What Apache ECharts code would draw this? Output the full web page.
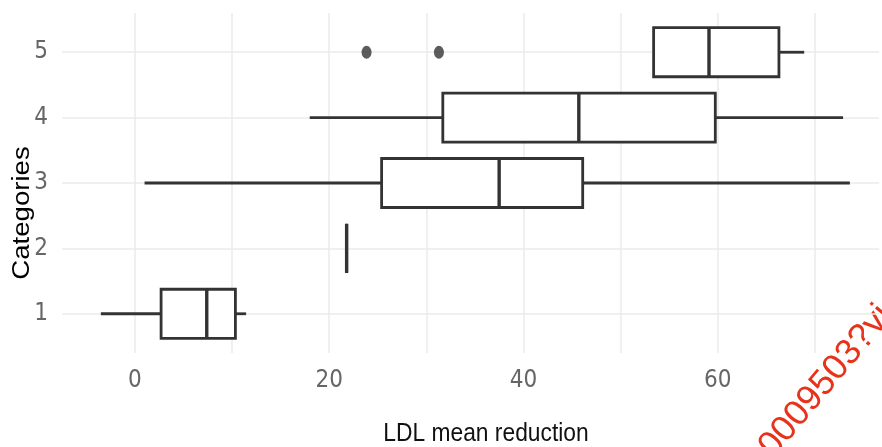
<!DOCTYPE html>
<html>
<head>
<meta charset="utf-8">
<script src="https://cdn.jsdelivr.net/npm/echarts@6/dist/echarts.min.js"></script>
<style>
  html, body { margin: 0; padding: 0; background: #fff; }
  #chart { width: 882px; height: 447px; }
</style>
</head>
<body>
<div id="chart"></div>
<script>
// box statistics, one entry per category
var categories = [1, 2, 3, 4, 5];
var lowWhisker = [-3.5, 21.8, 1.0, 18.0, 53.4];
var q1 = [2.7, 21.8, 25.4, 31.7, 53.4];
var median = [7.4, 21.8, 37.5, 45.7, 59.1];
var q3 = [10.35, 21.8, 46.1, 59.75, 66.3];
var highWhisker = [11.45, 21.8, 73.6, 72.9, 68.9];

// outliers: [value, category]
var outliers = [[23.85, 5], [31.3, 5]];

var xTickLabels = [0, 20, 40, 60];

var boxData = categories.map(function (c, i) {
    return [c, lowWhisker[i], q1[i], median[i], q3[i], highWhisker[i]];
});

var lineColor = '#333333';
var gridColor = '#ebebeb';
var tickFont = '"Liberation Sans Narrow", "DejaVu Sans Condensed", sans-serif';

function renderBox(params, api) {
    var cat = api.value(0);
    var pLow = api.coord([api.value(1), cat]);
    var pQ1 = api.coord([api.value(2), cat]);
    var pMed = api.coord([api.value(3), cat]);
    var pQ3 = api.coord([api.value(4), cat]);
    var pHigh = api.coord([api.value(5), cat]);
    var h = api.size([0, 0.75])[1];
    var y0 = pMed[1] - h / 2;
    var stroke = { stroke: lineColor, lineWidth: 2.8, fill: null };
    return {
        type: 'group',
        children: [
            { type: 'line', shape: { x1: pLow[0], y1: pLow[1], x2: pQ1[0], y2: pQ1[1] }, style: stroke },
            { type: 'line', shape: { x1: pQ3[0], y1: pQ3[1], x2: pHigh[0], y2: pHigh[1] }, style: stroke },
            { type: 'rect', shape: { x: pQ1[0], y: y0, width: pQ3[0] - pQ1[0], height: h },
              style: { stroke: lineColor, lineWidth: 2.8, fill: '#fff' } },
            { type: 'line', shape: { x1: pMed[0], y1: y0, x2: pMed[0], y2: y0 + h },
              style: { stroke: lineColor, lineWidth: 3.4 } }
        ]
    };
}

var chart = echarts.init(document.getElementById('chart'));

chart.setOption({
    backgroundColor: '#fff',
    animation: false,
    grid: { left: 62, right: 0, top: 13, bottom: 94 },
    xAxis: {
        type: 'value',
        min: -7.5,
        max: 76.6,
        minInterval: 10,
        maxInterval: 10,
        axisLine: { show: false },
        axisTick: { show: false },
        splitLine: { show: true, showMinLine: false, showMaxLine: false,
                     lineStyle: { color: gridColor, width: 1.5 } },
        axisLabel: {
            color: '#666',
            fontSize: 24,
            fontFamily: tickFont,
            margin: 16,
            formatter: function (v) { return xTickLabels.indexOf(v) >= 0 ? String(v) : ''; }
        }
    },
    yAxis: {
        type: 'value',
        min: 0.4,
        max: 5.6,
        minInterval: 1,
        maxInterval: 1,
        axisLine: { show: false },
        axisTick: { show: false },
        splitLine: { show: true, showMinLine: false, showMaxLine: false,
                     lineStyle: { color: gridColor, width: 1.5 } },
        axisLabel: {
            color: '#666',
            fontSize: 24,
            fontFamily: tickFont,
            margin: 14,
            formatter: function (v) { return categories.indexOf(v) >= 0 ? String(v) : ''; }
        }
    },
    graphic: [
        {
            type: 'text',
            x: 23, y: 213,
            rotation: Math.PI / 2,
            scaleX: 1.2,
            style: { text: 'Categories', fill: '#000', font: '23px "Liberation Sans", sans-serif',
                     textAlign: 'center', textVerticalAlign: 'middle' }
        },
        {
            type: 'text',
            x: 486, y: 434,
            scaleX: 1.14, scaleY: 1.25,
            style: { text: 'LDL mean reduction', fill: '#111', font: '20px "Liberation Sans", sans-serif',
                     textAlign: 'center', textVerticalAlign: 'middle' }
        },
        {
            type: 'text',
            x: 753, y: 468,
            rotation: 50 * Math.PI / 180,
            style: { text: '10009503?via', fill: '#e8321a', font: '36px "Liberation Sans", sans-serif',
                     textAlign: 'left', textVerticalAlign: 'middle' }
        }
    ],
    series: [
        {
            type: 'custom',
            renderItem: renderBox,
            encode: { x: [1, 2, 3, 4, 5], y: 0 },
            data: boxData,
            z: 2
        },
        {
            type: 'scatter',
            data: outliers,
            symbol: 'circle',
            symbolSize: [10, 13],
            itemStyle: { color: lineColor },
            z: 3
        }
    ]
});
</script>
</body>
</html>
